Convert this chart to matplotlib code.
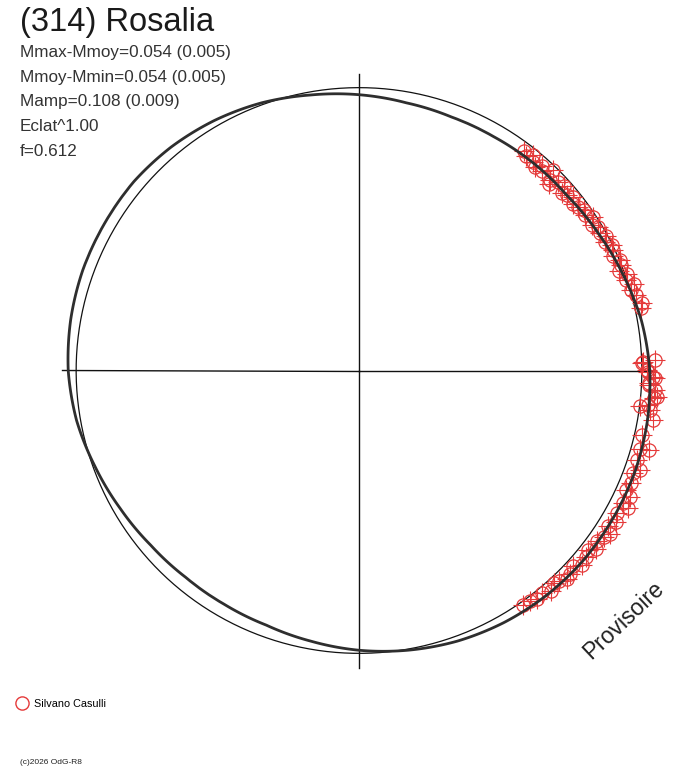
import numpy as np
import matplotlib
matplotlib.use("Agg")
import matplotlib.pyplot as plt

plt.rcParams["font.family"] = ["Liberation Sans", "DejaVu Sans"]

W, H = 688, 768

title = "(314) Rosalia"
info_lines = ["Mmax-Mmoy=0.054 (0.005)", "Mmoy-Mmin=0.054 (0.005)",
              "Mamp=0.108 (0.009)", "Eclat^1.00", "f=0.612"]
observer = "Silvano Casulli"
stamp = "Provisoire"
credit = "(c)2026 OdG-R8"

# composite lightcurve, radius relative to the reference circle (every 10 deg)
curve_phase_deg = np.arange(0, 360, 10)
curve_radius = [1.028, 1.014, 0.993, 0.975, 0.961, 0.958, 0.954, 0.954, 0.961,
                0.975, 0.989, 1.007, 1.021, 1.032, 1.039, 1.039, 1.039, 1.035,
                1.028, 1.014, 0.993, 0.975, 0.961, 0.954, 0.954, 0.958, 0.972,
                0.989, 1.004, 1.018, 1.028, 1.035, 1.039, 1.039, 1.039, 1.035]

# observations (phase angle in degrees, relative radius)
obs_phase_deg = [53.1, 52.0, 51.0, 50.1, 49.0, 48.2, 47.5, 46.0, 45.0, 44.5,
                 43.5, 42.0, 41.2, 40.2, 39.0, 38.0, 36.8, 35.5, 34.5, 33.2,
                 32.0, 31.0, 29.7, 28.5, 27.5, 26.4, 25.4, 24.2, 23.0, 21.9,
                 21.0, 19.9, 18.8, 17.5, 16.4, 15.2, 13.4, 12.5,
                 2.0, 1.8, 1.5, 0.1, -0.2, -1.2, -1.5, -2.5, -2.9, -3.8,
                 -5.0, -5.3, -6.8, -7.3, -7.7, -9.5,
                 -12.9, -15.3, -15.5, -17.9, -19.5, -20.5, -22.5, -24.1, -25.0,
                 -26.7, -27.1, -29.0, -30.5, -32.0, -33.0, -34.2, -35.5, -37.0,
                 -38.2, -39.5, -41.0, -42.5, -44.0, -45.0, -46.5, -47.5, -49.0,
                 -50.5, -52.0, -53.5, -55.0]
obs_radius = [0.972, 0.961, 0.979, 0.961, 0.951, 0.968, 0.958, 0.986, 0.954, 0.940,
              0.968, 0.975, 0.954, 0.961, 0.972, 0.958, 0.965, 0.975, 0.968, 0.989,
              0.972, 0.986, 0.979, 0.993, 0.982, 1.000, 0.993, 0.986, 1.004, 1.000,
              0.986, 1.007, 0.996, 1.018, 1.004, 1.014, 1.028, 1.021,
              1.046, 1.004, 1.000, 1.018, 1.021, 1.039, 1.046, 1.025, 1.028, 1.049,
              1.057, 1.049, 1.028, 1.000, 1.039, 1.053,
              1.025, 1.064, 1.032, 1.032, 1.053, 1.035, 1.042, 1.035, 1.057,
              1.046, 1.067, 1.042, 1.053, 1.039, 1.060, 1.046, 1.035, 1.049,
              1.028, 1.039, 1.046, 1.025, 1.035, 1.042, 1.028, 1.021, 1.032,
              1.018, 1.025, 1.014, 1.011]

RMAX = 1.05
red = "#e53a3a"

fig = plt.figure(figsize=(W / 100, H / 100), dpi=100)
cx, cy, rpx = 359, 370.5, 297
ax = fig.add_axes([(cx - rpx) / W, (H - cy - rpx) / H, 2 * rpx / W, 2 * rpx / H],
                  projection="polar")
ax.set_ylim(0, RMAX)
ax.grid(False)
ax.set_xticks([])
ax.set_yticks([])
ax.spines["polar"].set_visible(False)
ax.patch.set_alpha(0)

# cross
for a in (0, 0.5 * np.pi, np.pi, 1.5 * np.pi):
    ax.plot([a, a], [0, RMAX], color="#111111", lw=1.0, clip_on=False)

# reference circle
t = np.linspace(0, 2 * np.pi, 400)
ax.plot(t, np.ones_like(t), color="#111111", lw=0.9)

# observations
th = np.radians(obs_phase_deg)
pts, = ax.plot(th, obs_radius, ls="none", marker="o", ms=9.5, mfc="none",
               mec=red, mew=0.9, clip_on=False, zorder=3)
ax.plot(th, obs_radius, ls="none", marker="+", ms=14, mec=red, mew=0.8,
        clip_on=False, zorder=3)

# lightcurve (let the polar transform draw each segment as a curve)
tc = np.radians(np.append(curve_phase_deg, 360))
rc = np.append(curve_radius, curve_radius[0])
lc, = ax.plot(tc, rc, color="#2e2e2e", lw=2.0, clip_on=False, zorder=4)
lc.get_path()._interpolation_steps = 24

fig.text(20 / W, 1 - 31 / H, title, fontsize=23.5, color="#1a1a1a", va="baseline")
for i, s in enumerate(info_lines):
    fig.text(20 / W, 1 - (57 + 24.7 * i) / H, s, fontsize=12.3, color="#333333",
             va="baseline")

fig.text(624 / W, 1 - 620 / H, stamp, fontsize=16.5, color="#222222", rotation=43.5,
         ha="center", va="center", rotation_mode="anchor")

fig.legend(handles=[pts], labels=[observer], loc="center left",
           bbox_to_anchor=(6 / W, 1 - 704 / H), frameon=False, fontsize=7.8,
           handlelength=1.2, handletextpad=0.5, markerscale=1.0)
for h in fig.legends[0].legend_handles:
    h.set_markeredgewidth(1.0)

fig.text(20 / W, 1 - 763 / H, credit, fontsize=6, color="#222222", va="center")

fig.savefig("out.png", dpi=100, facecolor="white")
